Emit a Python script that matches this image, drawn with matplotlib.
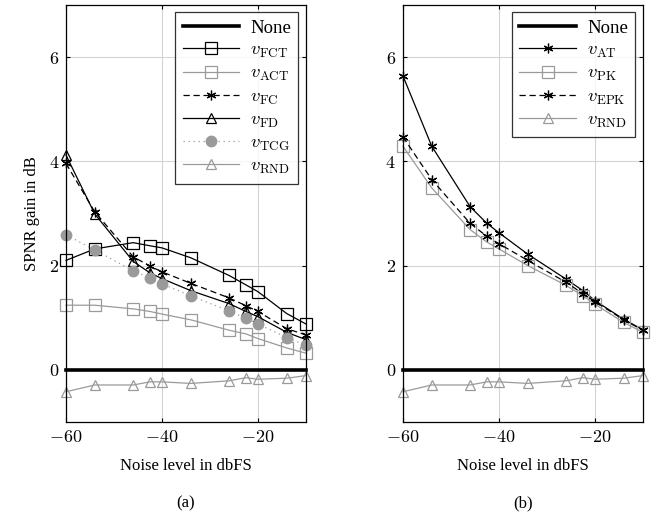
import matplotlib
matplotlib.use("Agg")
import matplotlib.pyplot as plt
import matplotlib.ticker as ticker

plt.rcParams["font.family"] = ["Liberation Serif", "DejaVu Serif"]
plt.rcParams["mathtext.fontset"] = "cm"

# noise levels in dbFS
noise = [-60, -54, -46, -42.5, -40, -34, -26, -22.5, -20, -14, -10]

# panel (a)
fct = [2.10, 2.32, 2.44, 2.38, 2.34, 2.15, 1.81, 1.63, 1.50, 1.08, 0.88]
act = [1.24, 1.24, 1.17, 1.12, 1.07, 0.96, 0.76, 0.69, 0.60, 0.42, 0.32]
fc = [3.96, 3.03, 2.17, 1.99, 1.88, 1.66, 1.38, 1.23, 1.12, 0.79, 0.67]
fd = [4.12, 2.99, 2.08, 1.86, 1.75, 1.52, 1.27, 1.12, 1.02, 0.72, 0.58]
tcg = [2.59, 2.30, 1.90, 1.76, 1.65, 1.42, 1.13, 0.99, 0.88, 0.62, 0.47]
rnd = [-0.42, -0.29, -0.29, -0.23, -0.23, -0.26, -0.21, -0.15, -0.18, -0.16, -0.11]

# panel (b)
at = [5.64, 4.29, 3.13, 2.81, 2.63, 2.22, 1.74, 1.52, 1.33, 0.97, 0.77]
pk = [4.29, 3.49, 2.69, 2.45, 2.32, 2.00, 1.62, 1.42, 1.26, 0.91, 0.72]
epk = [4.47, 3.65, 2.81, 2.56, 2.42, 2.10, 1.68, 1.46, 1.31, 0.96, 0.76]

GRAY = "#9a9a9a"
GRID = "#d4d4d4"
ASTER = (6, 2, 0)

fig = plt.figure(figsize=(6.52, 5.13), dpi=100)
ax_a = fig.add_axes([0.1012, 0.1774, 0.368, 0.813])
ax_b = fig.add_axes([0.618, 0.1774, 0.368, 0.813])


def none_line(ax):
    ax.plot([-60, -10], [0, 0], color="black", lw=2.6, label="None", zorder=5,
            clip_on=False)


def rnd_line(ax):
    ax.plot(noise, rnd, color=GRAY, lw=0.9, marker="^", ms=7, mfc="none",
            mec=GRAY, mew=0.9, label=r"$v_{\mathrm{RND}}$", clip_on=False)


# (a)
none_line(ax_a)
ax_a.plot(noise, fct, color="black", lw=0.9, marker="s", ms=8, mfc="none",
          mew=0.9, label=r"$v_{\mathrm{FCT}}$", clip_on=False)
ax_a.plot(noise, act, color=GRAY, lw=0.9, marker="s", ms=8, mfc="none",
          mec=GRAY, mew=0.9, label=r"$v_{\mathrm{ACT}}$", clip_on=False)
ax_a.plot(noise, fc, color="black", lw=0.9, ls=(0, (5, 3)), marker=ASTER, ms=7,
          mew=0.9, label=r"$v_{\mathrm{FC}}$", clip_on=False)
ax_a.plot(noise, fd, color="black", lw=0.9, marker="^", ms=7, mfc="none",
          mew=0.9, label=r"$v_{\mathrm{FD}}$", clip_on=False)
ax_a.plot(noise, tcg, color=GRAY, lw=0.9, ls=(0, (1, 3)), marker="o", ms=7.5,
          mfc=GRAY, mec=GRAY, label=r"$v_{\mathrm{TCG}}$", clip_on=False)
rnd_line(ax_a)

# (b)
none_line(ax_b)
ax_b.plot(noise, at, color="black", lw=0.9, marker=ASTER, ms=7, mew=0.9,
          label=r"$v_{\mathrm{AT}}$", clip_on=False)
ax_b.plot(noise, pk, color=GRAY, lw=0.9, marker="s", ms=8, mfc="none",
          mec=GRAY, mew=0.9, label=r"$v_{\mathrm{PK}}$", clip_on=False)
ax_b.plot(noise, epk, color="black", lw=0.9, ls=(0, (5, 3)), marker=ASTER, ms=7,
          mew=0.9, label=r"$v_{\mathrm{EPK}}$", clip_on=False)
rnd_line(ax_b)

fmt = ticker.FuncFormatter(lambda v, p: f"${v:g}$")

for ax, tag in ((ax_a, "(a)"), (ax_b, "(b)")):
    ax.set_xlim(-60, -10)
    ax.set_ylim(-1, 7)
    ax.set_xticks([-60, -40, -20])
    ax.set_yticks([0, 2, 4, 6])
    ax.xaxis.set_major_formatter(fmt)
    ax.yaxis.set_major_formatter(fmt)
    ax.grid(True, color=GRID, lw=0.8)
    ax.set_axisbelow(True)
    ax.tick_params(direction="in", length=3, labelsize=13, top=True, right=True,
                   color="black", pad=5)
    for sp in ax.spines.values():
        sp.set_linewidth(0.9)
        sp.set_zorder(6)
    ax.set_xlabel("Noise level in dbFS", fontsize=12, labelpad=9)
    ax.text(0.5, -0.175, tag, transform=ax.transAxes, ha="center", va="top",
            fontsize=12)
    leg = ax.legend(loc="upper right", fontsize=13.5, frameon=True, fancybox=False,
                    edgecolor="black", handlelength=3.0, borderaxespad=0.4,
                    labelspacing=0.26, handletextpad=0.6, borderpad=0.4)
    leg.get_frame().set_linewidth(0.9)
    leg.set_zorder(10)

ax_a.set_ylabel("SPNR gain in dB", fontsize=12, labelpad=6)

fig.savefig("out.png", dpi=100)
